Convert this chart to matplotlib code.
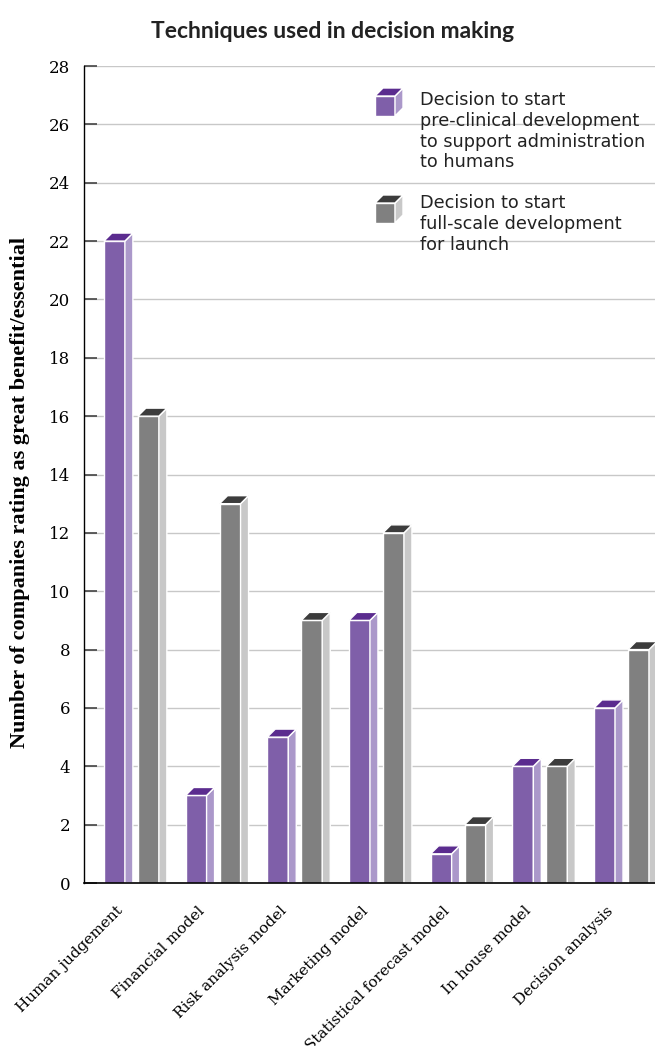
import matplotlib
matplotlib.use("Agg")
import matplotlib.pyplot as plt
from matplotlib.patches import Polygon
import numpy as np

categories = ["Human judgement", "Financial model", "Risk analysis model",
              "Marketing model", "Statistical forecast model", "In house model",
              "Decision analysis"]
preclinical = [22, 3, 5, 9, 1, 4, 6]
fullscale = [16, 13, 9, 12, 2, 4, 8]
series_labels = ["Decision to start\npre-clinical development\nto support administration\nto humans",
                 "Decision to start\nfull-scale development\nfor launch"]
yticks = list(range(0, 29, 2))

PURPLE = dict(front="#7f5fa9", side="#ab98ca", top="#5b2c8f")
GREY = dict(front="#808080", side="#c8c8c8", top="#3c3c3c")

W, H = 655, 1046
fig = plt.figure(figsize=(W / 100, H / 100), dpi=100)
ax = fig.add_axes([84 / W, 163 / H, 1 - 84 / W, (883 - 66) / H])

ax.set_ylim(0, 28)
ax.set_xlim(-0.58, 6.41)

# depth of the 3-D faces, in pixels, turned into data units
px_x = (ax.get_position().width * W) / (6.41 + 0.58)
px_y = (ax.get_position().height * H) / 28
dx, dy = 8 / px_x, 8 / px_y

bw = 0.257
off = 0.208
x = np.arange(len(categories))


def bar3d(xc, h, col):
    ax.bar(xc, h, width=bw, color=col["front"], edgecolor="white",
           linewidth=1.0, zorder=3)
    x0, x1 = xc - bw / 2, xc + bw / 2
    ax.add_patch(Polygon([(x1, 0), (x1 + dx, 0), (x1 + dx, h + dy), (x1, h)],
                         closed=True, facecolor=col["side"], edgecolor="white",
                         linewidth=1.0, zorder=3))
    ax.add_patch(Polygon([(x0, h), (x1, h), (x1 + dx, h + dy), (x0 + dx, h + dy)],
                         closed=True, facecolor=col["top"], edgecolor="white",
                         linewidth=1.0, zorder=3))


for i in range(len(categories)):
    bar3d(x[i] - off, preclinical[i], PURPLE)
    bar3d(x[i] + off, fullscale[i], GREY)

# axes styling
for s in ("top", "right"):
    ax.spines[s].set_visible(False)
ax.spines["left"].set_color("black")
ax.spines["bottom"].set_color("black")
ax.spines["left"].set_linewidth(1.0)
ax.spines["bottom"].set_linewidth(1.2)
ax.spines["bottom"].set_zorder(4)
ax.set_yticks(yticks)
ax.yaxis.grid(True, color="#c8c8c8", linewidth=1.0, zorder=0)
ax.set_axisbelow(True)
ax.tick_params(axis="y", direction="in", length=9, width=1.2, color="#444444",
               pad=10, labelsize=12)
for lab in ax.get_yticklabels():
    lab.set_family("DejaVu Serif")

# category labels end just left of each bar pair's centre
ax.set_xticks(x - 0.07)
ax.set_xticklabels(categories, rotation=45, ha="right", va="top",
                   family="DejaVu Serif", fontsize=11)
ax.tick_params(axis="x", length=0, pad=15)

fig.text(20 / W, 1 - 493 / H, "Number of companies rating as great benefit/essential",
         rotation=90, ha="center", va="center", family="Liberation Serif",
         fontweight="bold", fontsize=16)

fig.text(333 / W, 1 - 31 / H, "Techniques used in decision making",
         ha="center", va="center", family="Lato", fontweight="bold", fontsize=16.5,
         color="#222222")


# legend: small cubes drawn in figure pixels
def cube(px, py, col, size=20, d=8):
    tf = fig.transFigure

    def P(pts):
        return [(a / W, 1 - b / H) for a, b in pts]
    front = [(px, py), (px + size, py), (px + size, py + size), (px, py + size)]
    side = [(px + size, py), (px + size + d, py - d), (px + size + d, py + size - d),
            (px + size, py + size)]
    top = [(px, py), (px + d, py - d), (px + size + d, py - d), (px + size, py)]
    for pts, c in ((front, col["front"]), (side, col["side"]), (top, col["top"])):
        fig.patches.append(Polygon(P(pts), closed=True, facecolor=c,
                                   edgecolor="white", linewidth=1.0,
                                   transform=tf, figure=fig))


cube(375, 96, PURPLE)
cube(375, 203, GREY)
fig.text(420 / W, 1 - 91 / H, series_labels[0], ha="left", va="top",
         family="DejaVu Sans", fontsize=12.7, linespacing=1.2, color="#222222")
fig.text(420 / W, 1 - 194 / H, series_labels[1], ha="left", va="top",
         family="DejaVu Sans", fontsize=12.7, linespacing=1.2, color="#222222")

fig.savefig("out.png", dpi=100)
